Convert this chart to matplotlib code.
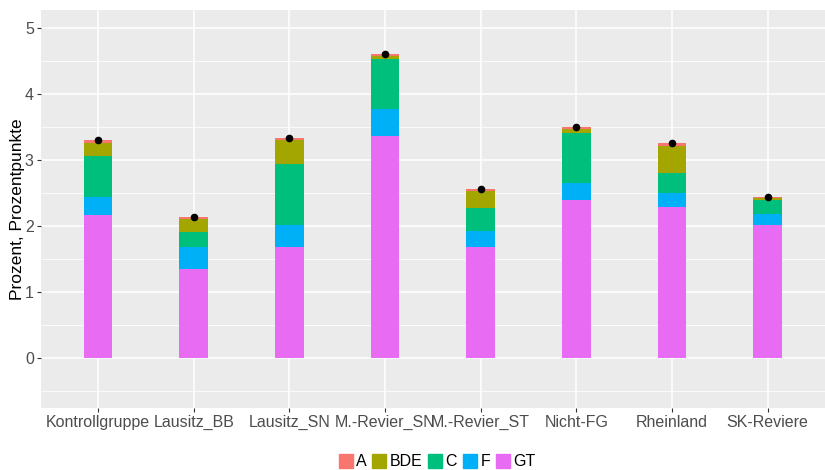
import matplotlib.pyplot as plt
from matplotlib.lines import Line2D
import numpy as np

plt.rcParams['font.family'] = ['Liberation Sans', 'DejaVu Sans']

# Gruppen und Anteile je Sektor (Prozent, Prozentpunkte)
gruppen = ['Kontrollgruppe', 'Lausitz_BB', 'Lausitz_SN', 'M.-Revier_SN',
           'M.-Revier_ST', 'Nicht-FG', 'Rheinland', 'SK-Reviere']
gt = [2.17, 1.35, 1.68, 3.37, 1.69, 2.40, 2.29, 2.01]
f = [0.27, 0.34, 0.33, 0.41, 0.24, 0.25, 0.21, 0.18]
c = [0.63, 0.22, 0.93, 0.76, 0.35, 0.77, 0.31, 0.20]
bde = [0.19, 0.20, 0.36, 0.04, 0.25, 0.05, 0.41, 0.03]
a = [0.05, 0.03, 0.04, 0.03, 0.03, 0.03, 0.04, 0.02]
gesamt = [3.31, 2.14, 3.34, 4.61, 2.56, 3.50, 3.26, 2.44]

sektoren = ['A', 'BDE', 'C', 'F', 'GT']
farben = {'A': '#F8766D', 'BDE': '#A3A500', 'C': '#00BF7D', 'F': '#00B0F6', 'GT': '#E76BF3'}

fig = plt.figure(figsize=(8.25, 4.70), dpi=100)
ax = fig.add_axes([40.7 / 825, 62 / 470, 784.3 / 825, 398 / 470])
ax.set_facecolor('#EBEBEB')

x = np.arange(1, len(gruppen) + 1)
unten = np.zeros(len(gruppen))
# stack from bottom: GT, F, C, BDE, A
for name, werte in [('GT', gt), ('F', f), ('C', c), ('BDE', bde), ('A', a)]:
    ax.bar(x, werte, width=0.3, bottom=unten, color=farben[name], zorder=2)
    unten += np.array(werte)

ax.scatter(x, gesamt, s=20, color='black', zorder=3)

ax.set_xlim(0.4, len(gruppen) + 0.6)
ax.set_ylim(-0.76, 5.28)
ax.set_yticks([0, 1, 2, 3, 4, 5])
ax.set_yticks([-0.5, 0.5, 1.5, 2.5, 3.5, 4.5], minor=True)
ax.set_xticks(x)
ax.set_xticklabels(gruppen)
ax.grid(which='major', color='white', linewidth=1.1, zorder=0)
ax.grid(which='minor', axis='y', color='white', linewidth=0.55, zorder=0)
ax.set_axisbelow(True)
for s in ax.spines.values():
    s.set_visible(False)
ax.tick_params(axis='both', which='major', colors='#333333', labelcolor='#4D4D4D',
               labelsize=11.5, length=3, width=0.8, pad=2)
ax.tick_params(axis='y', which='minor', length=0)
ax.set_ylabel('Prozent, Prozentpunkte', fontsize=12.5, color='black', labelpad=0)

handles = [Line2D([0], [0], marker='s', linestyle='', markersize=9.5,
                  markerfacecolor=farben[s], markeredgecolor=farben[s]) for s in sektoren]
fig.legend(handles, sektoren, loc='center', bbox_to_anchor=(437 / 825, 1 - 461.7 / 470),
           ncol=5, frameon=False, fontsize=11.5, handlelength=0.9, handletextpad=0.2,
           columnspacing=0.35, borderpad=0)

fig.savefig('out.png', dpi=100)
